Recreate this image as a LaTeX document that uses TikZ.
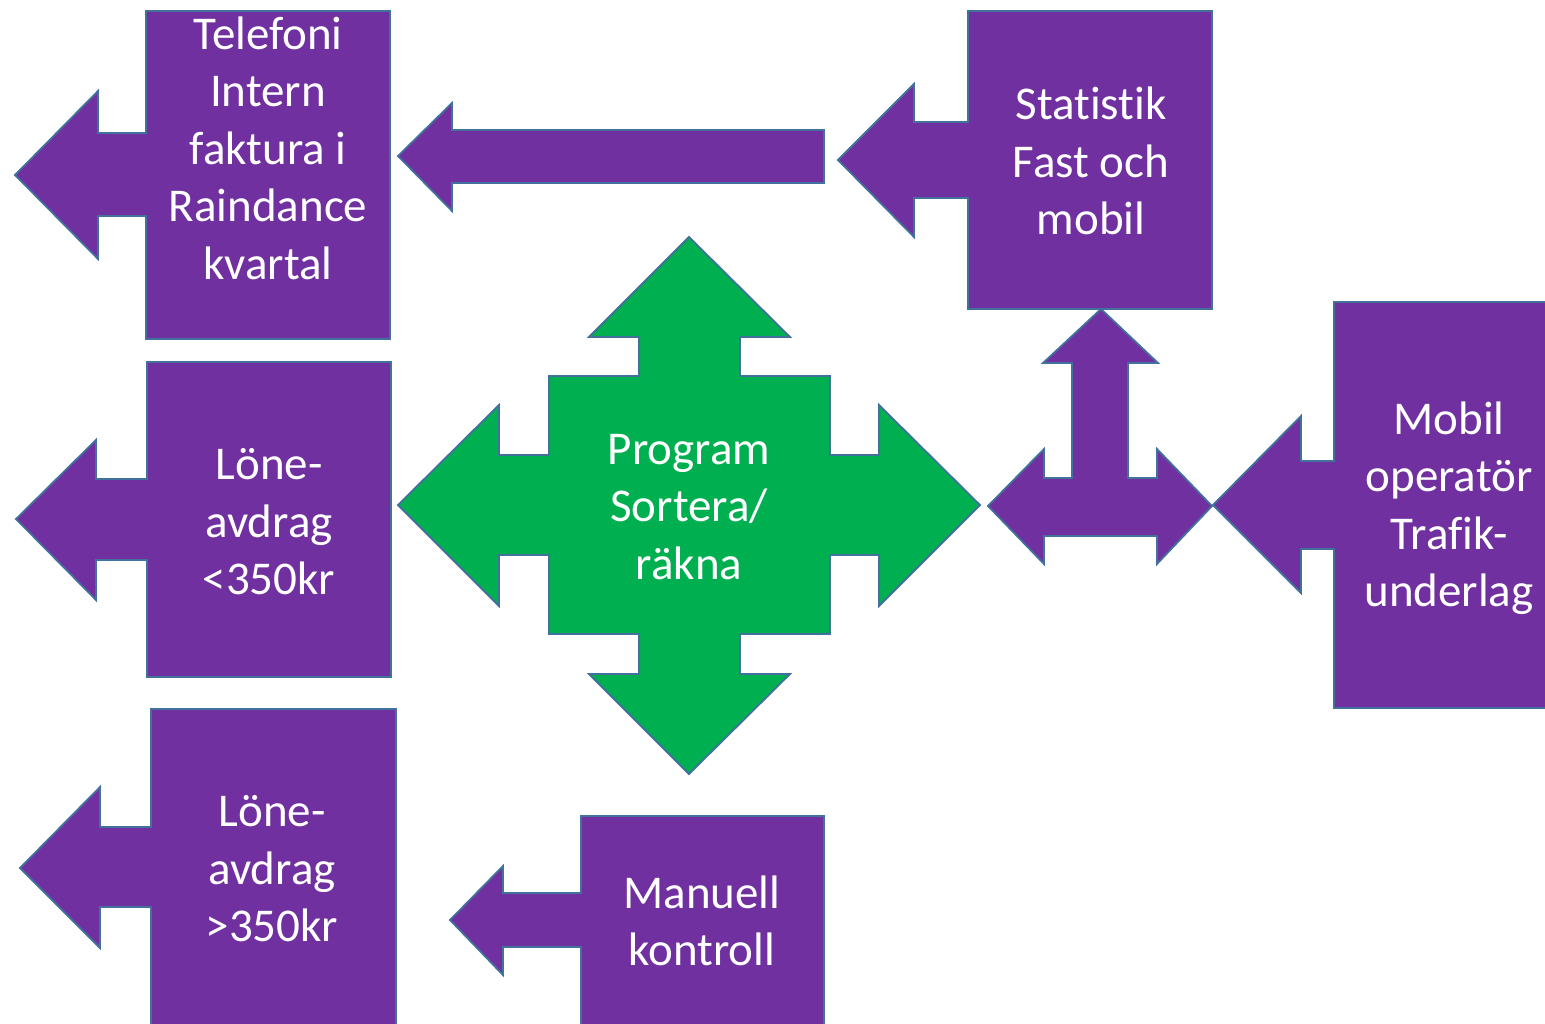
\documentclass[tikz,border=0pt]{standalone}
\usepackage{fontspec}
\setmainfont{Carlito}[Ligatures=NoCommon]
\definecolor{lila}{HTML}{7030A0}
\definecolor{gron}{HTML}{00B050}
\definecolor{kant}{HTML}{41719C}
\begin{document}
\begin{tikzpicture}[x=1pt, y=-1pt, line join=miter,
	form/.style={fill=lila, draw=kant, line width=1.8pt},
	grform/.style={fill=gron, draw=kant, line width=1.8pt},
	txt/.style={text=white, align=center, inner sep=0pt, font=\fontsize{47}{57.5}\selectfont}]
	\useasboundingbox (0,0) rectangle (1545,1023);
	\clip (0,0) rectangle (1545,1023);
	% vänster kolumn
	\draw[form] (146,11)--(390,11)--(390,339)--(146,339)--(146,216)--(98,216)--(98,259)--(15,175)--(98,91)--(98,133)--(146,133)--cycle;
	\draw[form] (147,362)--(391,362)--(391,677)--(147,677)--(147,560)--(96,560)--(96,600)--(16,519)--(96,440)--(96,479)--(147,479)--cycle;
	\draw[form] (151,709)--(396,709)--(396,1040)--(151,1040)--(151,907)--(100,907)--(100,948)--(20,868)--(100,787)--(100,827)--(151,827)--cycle;
	\draw[form] (581,816)--(824,816)--(824,1040)--(581,1040)--(581,947)--(503,947)--(503,975)--(450,920)--(503,866)--(503,893)--(581,893)--cycle;
	% pil mellan
	\draw[form] (824,130)--(824,183)--(452,183)--(452,211)--(398,156)--(452,103)--(452,130)--cycle;
	% höger kolumn
	\draw[form] (968,11)--(1212,11)--(1212,309)--(968,309)--(968,198)--(914,198)--(914,237)--(838,160)--(914,84)--(914,122)--(968,122)--cycle;
	\draw[form] (1334,302)--(1560,302)--(1560,708)--(1334,708)--(1334,549)--(1301,549)--(1301,593)--(1213,505)--(1301,416)--(1301,461)--(1334,461)--cycle;
	\draw[form] (1101,309)--(1158,363)--(1128,363)--(1128,478)--(1157,478)--(1157,449)--(1212,506)--(1157,564)--(1157,536)--(1044,536)--(1044,564)--(988,506)--(1044,449)--(1044,478)--(1072,478)--(1072,363)--(1043,363)--cycle;
	% programmet
	\draw[grform] (689,237)--(790,337)--(740,337)--(740,376)--(830,376)--(830,455)--(879,455)--(879,405)--(980,505)--(879,606)--(879,555)--(830,555)--(830,634)--(740,634)--(740,674)--(790,674)--(689,774)--(589,674)--(639,674)--(639,634)--(549,634)--(549,555)--(499,555)--(499,606)--(398,505)--(499,405)--(499,455)--(549,455)--(549,376)--(639,376)--(639,337)--(589,337)--cycle;
	\node[txt] (telefoni) at (268,148) {Telefoni\\Intern\\faktura i\\Raindance\\kvartal};
	\node[txt] (lone1) at (269,522) {Löne-\\avdrag\\<350kr};
	\node[txt] (lone2) at (272,869) {Löne-\\avdrag\\>350kr};
	\node[txt] (manuell) at (702,921) {Manuell\\kontroll};
	\node[txt] (statistik) at (1091,161) {Statistik\\Fast och\\mobil};
	\node[txt] (mobil) at (1449,508) {Mobil\\operatör\\Trafik-\\underlag};
	\node[txt] (program) at (689,507) {Program\\Sortera/\\räkna};
\end{tikzpicture}
\end{document}
